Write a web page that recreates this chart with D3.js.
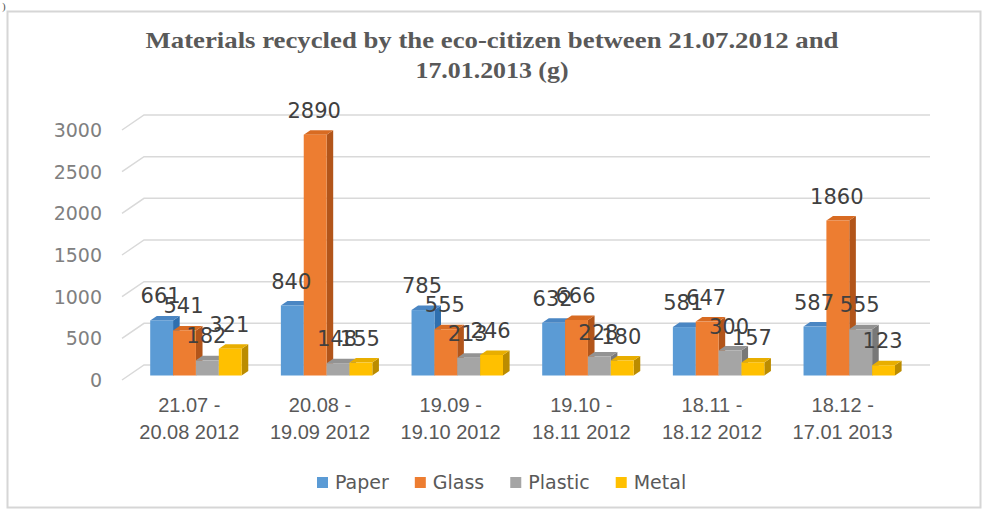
<!DOCTYPE html>
<html>
<head>
<meta charset="utf-8">
<script src="https://cdn.jsdelivr.net/npm/d3@7"></script>
<style>
  html, body { margin: 0; padding: 0; background: #ffffff; }
  svg { display: block; }
</style>
</head>
<body>
<svg id="chart" width="984" height="511"></svg>
<script>
// Recycled quantities per period (grams)
const periods = [
  ["21.07 -", "20.08 2012"],
  ["20.08 -", "19.09 2012"],
  ["19.09 -", "19.10 2012"],
  ["19.10 -", "18.11 2012"],
  ["18.11 -", "18.12 2012"],
  ["18.12 -", "17.01 2013"]
];
const seriesNames = ["Paper", "Glass", "Plastic", "Metal"];
const paper   = [661, 840, 785, 632, 581, 587];
const glass   = [541, 2890, 555, 666, 647, 1860];
const plastic = [182, 148, 213, 228, 300, 555];
const metal   = [321, 155, 246, 180, 157, 123];
const yTicks  = [0, 500, 1000, 1500, 2000, 2500, 3000];
const titleLines = [
  "Materials recycled by the eco-citizen between 21.07.2012 and",
  "17.01.2013 (g)"
];

const seriesValues = [paper, glass, plastic, metal];
// front / top / side face colours per series
const faceColors = [
  { front: "#5B9BD5", top: "#4A86C3", side: "#2F6FAE" },
  { front: "#ED7D31", top: "#D86B22", side: "#B2551A" },
  { front: "#A5A5A5", top: "#939393", side: "#787878" },
  { front: "#FFC000", top: "#E8AE00", side: "#BB8C00" }
];

const svg = d3.select("#chart");

// outer frame
svg.append("text").attr("x", 2).attr("y", 10)
  .attr("font-family", "Liberation Serif").attr("font-size", 11)
  .attr("fill", "#555").text(")");
svg.append("rect")
  .attr("x", 7.5).attr("y", 11.5).attr("width", 973).attr("height", 496)
  .attr("fill", "#ffffff").attr("stroke", "#d6d6d6").attr("stroke-width", 2);

// title, stretched to its wide, bold look
const titleWidths = [693, 153];
titleLines.forEach((t, i) => {
  svg.append("text")
    .attr("x", 492).attr("y", 48 + i * 30)
    .attr("text-anchor", "middle")
    .attr("font-family", "Liberation Serif, Times New Roman, serif")
    .attr("font-weight", "bold").attr("font-size", 24).attr("fill", "#595959")
    .attr("textLength", titleWidths[i]).attr("lengthAdjust", "spacingAndGlyphs")
    .text(t);
});

// 3D geometry: front plane scales plus a depth vector toward the back wall
const depth = { dx: 22, dy: -15 };
const x0 = d3.scaleBand().domain(d3.range(periods.length))
  .range([124, 908]).paddingInner(0.3).paddingOuter(0.15);
const x1 = d3.scaleBand().domain(d3.range(seriesNames.length))
  .range([0, x0.bandwidth()]);
const y = d3.scaleLinear().domain([0, 3000]).range([380, 130]);

// gridlines on the back wall with the slanted side-wall segment
const grid = svg.append("g").attr("stroke", "#d9d9d9").attr("stroke-width", 1.5).attr("fill", "none");
yTicks.forEach(v => {
  const yf = y(v);
  grid.append("path").attr("d",
    `M${122},${yf} L${122 + depth.dx},${yf + depth.dy} L${908 + depth.dx},${yf + depth.dy}`);
});

// y tick labels
svg.append("g").selectAll("text").data(yTicks).join("text")
  .attr("x", 102).attr("y", d => y(d)).attr("dy", "0.36em")
  .attr("text-anchor", "end")
  .attr("font-family", "DejaVu Sans, sans-serif").attr("font-size", 19)
  .attr("fill", "#808080").text(d => d);

// bars: front face sits at 30% depth, back face at 60%
const fFront = 0.3, fBack = 0.6;
const offF = { x: depth.dx * fFront, y: depth.dy * fFront };
const offB = { x: depth.dx * fBack, y: depth.dy * fBack };
const bw = x1.bandwidth();

const bars = [];
periods.forEach((p, ci) => {
  seriesValues.forEach((vals, si) => {
    bars.push({ ci, si, v: vals[ci] });
  });
});

const barG = svg.append("g");
bars.forEach(b => {
  const xl = x0(b.ci) + x1(b.si) + offF.x;
  const xr = xl + bw;
  const yb = y(0) + offF.y;
  const yt = y(b.v) + offF.y;
  const ddx = offB.x - offF.x, ddy = offB.y - offF.y;
  const c = faceColors[b.si];
  // side face (right)
  barG.append("path").attr("fill", c.side)
    .attr("d", `M${xr},${yb} L${xr + ddx},${yb + ddy} L${xr + ddx},${yt + ddy} L${xr},${yt} Z`);
  // top face
  barG.append("path").attr("fill", c.top)
    .attr("d", `M${xl},${yt} L${xl + ddx},${yt + ddy} L${xr + ddx},${yt + ddy} L${xr},${yt} Z`);
  // front face
  barG.append("rect").attr("fill", c.front)
    .attr("x", xl).attr("y", yt).attr("width", bw).attr("height", yb - yt);
});

// value labels
svg.append("g").selectAll("text").data(bars).join("text")
  .attr("x", d => x0(d.ci) + x1(d.si) + offF.x + bw / 2 - 1)
  .attr("y", d => y(d.v) + offF.y - 17)
  .attr("text-anchor", "middle")
  .attr("font-family", "DejaVu Sans, sans-serif").attr("font-size", 21)
  .attr("fill", "#404040").text(d => d.v);

// category labels (two lines each)
const cat = svg.append("g").attr("font-family", "Liberation Sans, Arial, sans-serif")
  .attr("font-size", 20).attr("fill", "#595959").attr("text-anchor", "middle");
periods.forEach((p, i) => {
  const cx = x0(i) + x0.bandwidth() / 2;
  const t = cat.append("text");
  t.append("tspan").attr("x", cx).attr("y", 412).text(p[0]);
  t.append("tspan").attr("x", cx).attr("y", 439).text(p[1]);
});

// legend
const legend = svg.append("g").attr("font-family", "DejaVu Sans, sans-serif")
  .attr("font-size", 19).attr("fill", "#595959");
let lx = 317;
seriesNames.forEach((name, i) => {
  legend.append("rect").attr("x", lx).attr("y", 477).attr("width", 11).attr("height", 11)
    .attr("fill", faceColors[i].front);
  const t = legend.append("text").attr("x", lx + 18).attr("y", 489).text(name);
  lx += 18 + t.node().getComputedTextLength() + 26;
});
</script>
</body>
</html>
